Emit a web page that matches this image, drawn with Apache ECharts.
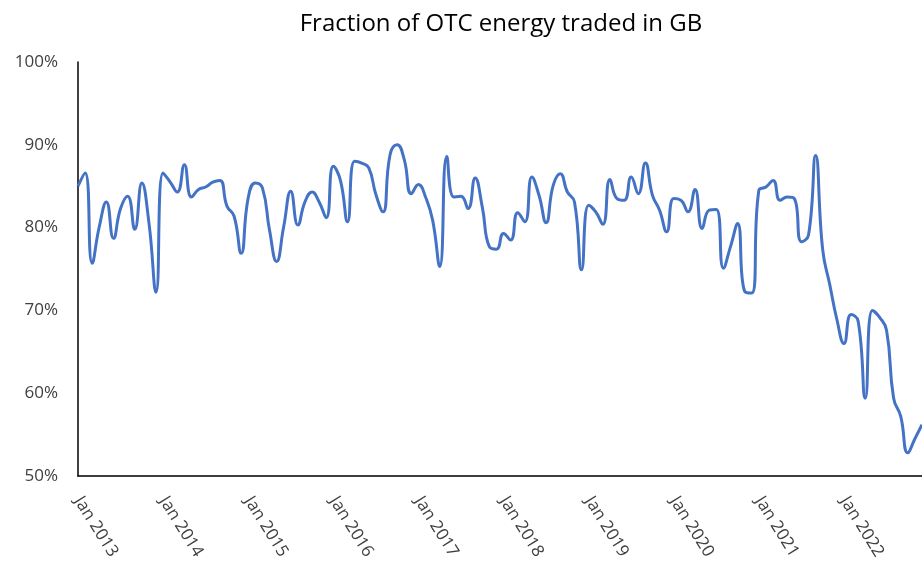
<!DOCTYPE html>
<html>
<head>
<meta charset="utf-8">
<title>Fraction of OTC energy traded in GB</title>
<script src="https://cdn.jsdelivr.net/npm/echarts@6/dist/echarts.min.js"></script>
<style>
  html, body { margin: 0; padding: 0; background: #fff; }
  #chart { width: 922px; height: 567px; }
</style>
</head>
<body>
<div id="chart"></div>
<script>
var monthNames = ['Jan','Feb','Mar','Apr','May','Jun','Jul','Aug','Sep','Oct','Nov','Dec'];
var years = [2013, 2014, 2015, 2016, 2017, 2018, 2019, 2020, 2021, 2022];

// monthly share of OTC energy, %
var otc2013 = [85.0, 86.6, 75.7, 80.1, 83.1, 78.7, 82.3, 83.8, 79.8, 85.4, 80.6, 72.2];
var otc2014 = [86.6, 85.5, 84.3, 87.6, 83.7, 84.6, 84.9, 85.5, 85.7, 82.6, 81.4, 76.9];
var otc2015 = [83.6, 85.4, 84.8, 79.7, 75.9, 80.1, 84.4, 80.3, 83.1, 84.3, 83.1, 81.2];
var otc2016 = [87.4, 85.7, 80.7, 88.0, 87.8, 87.2, 84.0, 81.9, 88.8, 90.0, 88.2, 84.1];
var otc2017 = [85.2, 83.7, 80.9, 75.3, 88.6, 83.7, 83.8, 82.3, 86.0, 82.5, 77.7, 77.4];
var otc2018 = [79.3, 78.5, 81.8, 80.7, 86.1, 83.9, 80.6, 85.1, 86.5, 84.3, 83.1, 74.9];
var otc2019 = [82.7, 81.9, 80.4, 85.8, 83.5, 83.3, 86.1, 84.1, 87.8, 83.9, 82.1, 79.5];
var otc2020 = [83.5, 83.3, 81.9, 84.6, 79.9, 82.1, 82.2, 75.1, 77.7, 80.5, 72.3, 72.1];
var otc2021 = [84.5, 84.9, 85.7, 83.3, 83.7, 83.5, 78.3, 79.1, 88.7, 77.3, 73.1, 68.9];
var otc2022 = [66.0, 69.5, 68.7, 59.4, 70.0, 69.2, 67.6, 59.4, 57.2, 52.8, 54.5, 56.2];

var yTicks = [50, 60, 70, 80, 90, 100];

var categories = [];
years.forEach(function(y){
    monthNames.forEach(function(m){
        categories.push(m + ' ' + y);
    });
});

var values = [].concat(otc2013, otc2014, otc2015, otc2016, otc2017,
                       otc2018, otc2019, otc2020, otc2021, otc2022);

var font = '"Open Sans", Lato, sans-serif';

echarts.init(document.getElementById('chart')).setOption({
    animation: false,
    title: {
        text: 'Fraction of OTC energy traded in GB',
        left: 496,
        top: 7,
        textAlign: 'center',
        textStyle: {
            fontFamily: font,
            fontSize: 24,
            fontWeight: 'normal',
            color: '#000'
        }
    },
    grid: {
        left: 78,
        top: 62,
        width: 848,
        bottom: 91,
        containLabel: false
    },
    xAxis: {
        type: 'category',
        boundaryGap: false,
        data: categories,
        axisTick: { show: false },
        axisLine: {
            lineStyle: { color: '#000', width: 1.5 }
        },
        axisLabel: {
            interval: 11,
            rotate: -58,
            margin: 22,
            fontFamily: font,
            fontSize: 17,
            color: '#404040'
        },
        splitLine: { show: false }
    },
    yAxis: {
        type: 'value',
        min: yTicks[0],
        max: yTicks[yTicks.length - 1],
        interval: 10,
        axisTick: { show: false },
        axisLine: {
            show: true,
            lineStyle: { color: '#000', width: 1.5 }
        },
        axisLabel: {
            formatter: '{value}%',
            margin: 20,
            fontFamily: font,
            fontSize: 17,
            color: '#404040'
        },
        splitLine: { show: false }
    },
    series: [
        {
            name: 'OTC fraction',
            type: 'line',
            data: values,
            smooth: 0.5,
            symbol: 'none',
            lineStyle: { color: '#4472c4', width: 3 },
            color: '#4472c4'
        }
    ]
});
</script>
</body>
</html>
